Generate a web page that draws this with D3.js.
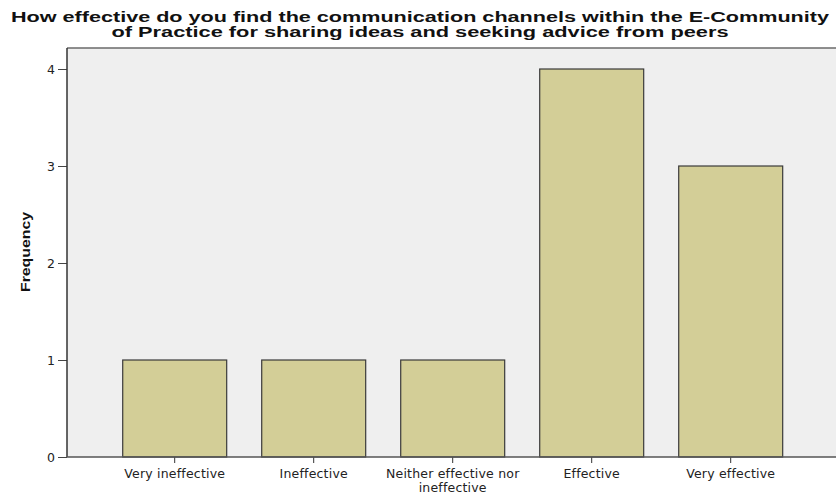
<!DOCTYPE html>
<html>
<head>
<style>
  body { margin: 0; background: #fff; }
</style>
</head>
<body>
<script src="https://d3js.org/d3.v7.min.js"></script>
<script>

const width = 837;
const height = 494;

const categories = ['Very ineffective', 'Ineffective', 'Neither effective nor\nineffective', 'Effective', 'Very effective'];
const frequency = [1, 1, 1, 4, 3];
const yTicks = [0, 1, 2, 3, 4];
const titleLines = [
  'How effective do you find the communication channels within the E-Community',
  'of Practice for sharing ideas and seeking advice from peers'
];
const titleWidths = [818, 617];

const plot = {left: 67, top: 48, right: 836, bottom: 457};
const tickFont = '"DejaVu Sans", Verdana, sans-serif';
const headFont = '"Liberation Sans", Arial, sans-serif';

const svg = d3.select('body')
              .append('svg')
              .attr('width', width)
              .attr('height', height);

const x = d3.scaleBand()
            .domain(categories)
            .range([105.2, 800.2])
            .paddingInner(0.252)
            .paddingOuter(0.126);

const y = d3.scaleLinear()
            .domain([0, 4])
            .range([plot.bottom, 69]);

// plot background + frame
svg.append('rect')
   .attr('x', plot.left)
   .attr('y', plot.top)
   .attr('width', plot.right - plot.left)
   .attr('height', plot.bottom - plot.top)
   .attr('fill', '#efefef');

svg.append('line')
   .attr('x1', plot.left).attr('x2', plot.right)
   .attr('y1', plot.top).attr('y2', plot.top)
   .attr('stroke', '#6a6a6a').attr('stroke-width', 1.5);

// bars
svg.selectAll('rect.bar')
   .data(frequency)
   .enter()
   .append('rect')
   .attr('class', 'bar')
   .attr('x', (d, i) => x(categories[i]))
   .attr('y', d => y(d))
   .attr('width', x.bandwidth())
   .attr('height', d => y(0) - y(d))
   .attr('fill', '#d3ce97')
   .attr('stroke', '#3a3a3a')
   .attr('stroke-width', 1.2);

// y axis
const yAxis = svg.append('g')
   .attr('transform', `translate(${plot.left},0)`)
   .call(d3.axisLeft(y).tickValues(yTicks).tickSize(9).tickPadding(3).tickFormat(d3.format('d')));
yAxis.select('.domain').remove();
yAxis.selectAll('.tick line').attr('stroke', '#444');
yAxis.selectAll('.tick text')
     .style('font-size', '12.5px')
     .style('font-family', tickFont)
     .attr('fill', '#222');

svg.append('line')
   .attr('x1', plot.left).attr('x2', plot.left)
   .attr('y1', plot.top).attr('y2', plot.bottom)
   .attr('stroke', '#333').attr('stroke-width', 1.5);

// x axis
const xAxis = svg.append('g')
   .attr('transform', `translate(0,${plot.bottom})`)
   .call(d3.axisBottom(x).tickSize(6).tickFormat(''));
xAxis.select('.domain').remove();
xAxis.selectAll('.tick line').attr('stroke', '#333');

svg.append('line')
   .attr('x1', plot.left).attr('x2', plot.right)
   .attr('y1', plot.bottom).attr('y2', plot.bottom)
   .attr('stroke', '#555').attr('stroke-width', 1.5);

const xLabels = svg.selectAll('text.xlab')
   .data(categories)
   .enter()
   .append('text')
   .attr('class', 'xlab')
   .attr('text-anchor', 'middle')
   .style('font-size', '12.5px')
   .style('letter-spacing', '0.2px')
   .style('font-family', tickFont)
   .attr('fill', '#222')
   .attr('transform', d => `translate(${x(d) + x.bandwidth() / 2},478)`);

xLabels.selectAll('tspan')
   .data(d => d.split('\n'))
   .enter()
   .append('tspan')
   .attr('x', 0)
   .attr('dy', (d, i) => i === 0 ? 0 : 13.5)
   .text(d => d);

// y title
svg.append('text')
   .attr('transform', 'translate(30,252) rotate(-90)')
   .attr('text-anchor', 'middle')
   .style('font-family', headFont)
   .style('font-size', '13.5px')
   .style('font-weight', 'bold')
   .attr('fill', '#111')
   .attr('textLength', 80)
   .attr('lengthAdjust', 'spacingAndGlyphs')
   .text('Frequency');

// chart title
svg.selectAll('text.title')
   .data(titleLines)
   .enter()
   .append('text')
   .attr('class', 'title')
   .attr('x', 420)
   .attr('y', (d, i) => 22 + i * 15)
   .attr('text-anchor', 'middle')
   .style('font-family', headFont)
   .style('font-size', '14px')
   .style('font-weight', 'bold')
   .attr('fill', '#111')
   .attr('textLength', (d, i) => titleWidths[i])
   .attr('lengthAdjust', 'spacingAndGlyphs')
   .text(d => d);

</script>
</body>
</html>
